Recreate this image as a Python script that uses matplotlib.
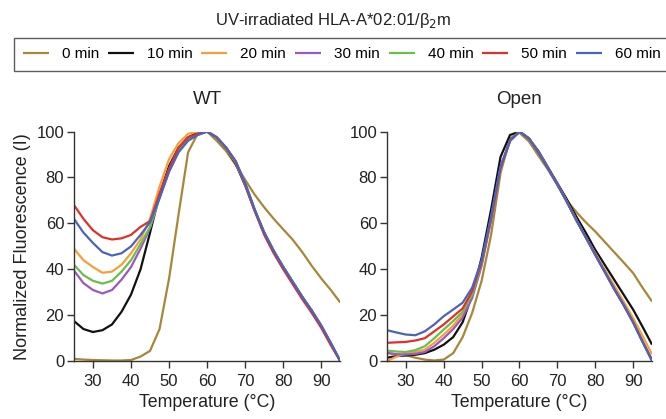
import matplotlib
matplotlib.use("Agg")
import matplotlib.pyplot as plt

plt.rcParams['font.family'] = ['Liberation Sans', 'DejaVu Sans']

temps = [25, 27.5, 30, 32.5, 35, 37.5, 40, 42.5, 45, 47.5, 50, 52.5, 55, 57.5, 60,
         62.5, 65, 67.5, 70, 72.5, 75, 77.5, 80, 82.5, 85, 87.5, 90, 92.5, 95]

labels = ["0 min", "10 min", "20 min", "30 min", "40 min", "50 min", "60 min"]
colors = ["#a8863a", "#111111", "#f5a03a", "#9b59c0", "#6abf4b", "#e0302a", "#4a63c0"]

# WT panel
wt_0 = [1, 0.7, 0.5, 0.4, 0.3, 0.3, 0.5, 2, 4.5, 14, 36, 64, 91, 99, 100,
        96, 91.5, 85.5, 79, 72.5, 67, 62, 57.4, 52.9, 47.5, 41.5, 36, 31, 25.5]
wt_10 = [17.5, 14, 12.7, 13.5, 16, 21.5, 29, 40, 56, 72.5, 85, 93, 97.5, 99.5, 100,
         97.5, 92.5, 86, 76.5, 65.5, 56, 48, 41, 34.5, 28, 22, 15, 7.5, 0]
wt_20 = [49, 44, 41, 38.5, 39, 42, 47, 53, 62, 76, 88, 95, 99, 100, 100,
         97.5, 92.5, 86.5, 77, 65.5, 55.5, 47.5, 40.5, 34, 27.5, 21.5, 15, 7.5, 0]
wt_30 = [39.5, 34, 31, 29.5, 31, 35.5, 41, 49, 58, 71.5, 83, 92, 96.5, 99, 100,
         97.5, 93, 87, 77.5, 66, 56, 48, 41, 34.5, 28, 22, 15.3, 7.8, 0]
wt_40 = [42, 37.5, 35, 33.8, 35, 39, 44, 51, 58.5, 71, 83, 92, 96.5, 98.5, 100,
         97.5, 93, 87, 77.5, 66, 56, 48, 41, 34.5, 28, 22, 15.3, 7.8, 0]
wt_50 = [68, 62, 57, 54, 53, 53.5, 55, 58.5, 61, 73, 84, 93, 97.5, 99, 100,
         97.5, 93, 87, 77, 65.5, 55, 47, 40, 33.5, 27, 21, 14.5, 7, 0]
wt_60 = [62, 56, 51.5, 47.5, 46, 47, 50, 55, 60.5, 71, 82.5, 91, 96, 98.5, 100,
         97.5, 93, 87, 77.5, 66, 56, 48, 41, 34.5, 28, 22, 15.6, 8, 0]

# Open panel
op_0 = [3.6, 3, 2.6, 1.5, 0.7, 0.3, 0.7, 3.5, 10.5, 21, 35, 55, 82, 97, 99.5,
        95.7, 89.5, 83.5, 76.8, 70, 65, 60.5, 56.5, 52, 47.5, 43, 38.4, 32, 26]
op_10 = [1.5, 2.2, 2.5, 2.8, 3.5, 5, 7.2, 10.5, 17, 29, 45, 66, 89, 98.5, 100,
         97, 91.5, 84.5, 77.5, 70.5, 63, 56, 48.5, 42, 35.5, 29, 22.5, 15, 7.2]
op_20 = [0, 2, 3.2, 4, 5, 8, 11.6, 15.5, 20.5, 28.5, 42.5, 62, 84, 96, 100,
         97, 91, 84, 77, 69.5, 61.5, 54, 47, 40, 33, 26, 18.8, 11, 3]
op_30 = [3.6, 3, 2.9, 3.2, 4, 6.5, 10, 14, 19, 27.5, 41.5, 61.5, 84, 96, 100,
         97, 91, 84, 77, 69.5, 61.5, 54, 46.4, 39, 31.5, 24.5, 17, 8.5, 0.5]
op_40 = [4.6, 4.2, 4, 4.8, 6.5, 10, 13.8, 17.5, 21.5, 29, 42.5, 62, 84, 96, 100,
         97, 91, 84, 77, 69.5, 61.5, 54, 46.4, 39, 31.5, 24.5, 17, 8.5, 0.5]
op_50 = [8, 8.2, 8.4, 9, 10, 13, 16, 19.5, 23, 30.5, 43, 62, 84, 96, 100,
         97, 91, 84, 77, 69.5, 61.5, 54, 46.4, 39, 31.5, 24.5, 17, 8.5, 0.5]
op_60 = [13.5, 12.5, 11.6, 11.3, 13, 16, 19.6, 22.5, 25.5, 32, 44, 63, 85, 96, 100,
         97, 91, 84, 77, 69.5, 61.5, 54, 46.4, 39, 31.5, 24.5, 17, 8.5, 0]

wt_series = [wt_0, wt_10, wt_20, wt_30, wt_40, wt_50, wt_60]
op_series = [op_0, op_10, op_20, op_30, op_40, op_50, op_60]

xticks = [30, 40, 50, 60, 70, 80, 90]
yticks = [0, 20, 40, 60, 80, 100]

fig = plt.figure(figsize=(6.66, 4.19), dpi=100)
ax1 = fig.add_axes([0.111, 0.138, 0.400, 0.548])
ax2 = fig.add_axes([0.581, 0.138, 0.398, 0.548])

handles = []
for ax, series, title in [(ax1, wt_series, "WT"), (ax2, op_series, "Open")]:
    for vals, c, lab in zip(series, colors, labels):
        h, = ax.plot(temps, vals, color=c, lw=1.6, label=lab,
                     solid_capstyle='butt', solid_joinstyle='round')
        if ax is ax1:
            handles.append(h)
    ax.set_xlim(25, 95)
    ax.set_ylim(0, 100)
    ax.set_xticks(xticks)
    ax.set_yticks(yticks)
    ax.spines['top'].set_visible(False)
    ax.spines['right'].set_visible(False)
    for s in ['left', 'bottom']:
        ax.spines[s].set_color('#333333')
        ax.spines[s].set_linewidth(1.0)
    ax.tick_params(direction='out', length=5, width=1, colors='#333333',
                   labelsize=12, labelcolor='#222222')
    ax.tick_params(axis='x', pad=4)
    ax.tick_params(axis='y', pad=2)
    ax.set_xlabel("Temperature (°C)", fontsize=12.8, color='#222222', labelpad=4)
    ax.set_title(title, fontsize=13.5, color='#222222', pad=20)

ax1.set_ylabel("Normalized Fluorescence (I)", fontsize=13, color='#222222', labelpad=4)

fig.text(0.5, 0.952, "UV-irradiated HLA-A*02:01/β$_2$m", ha='center', va='center',
         fontsize=12, color='#222222')

leg = fig.legend(handles=handles, loc='center', bbox_to_anchor=(0.513, 0.870),
                 ncol=7, frameon=True, fancybox=False, fontsize=11,
                 handlelength=1.7, handletextpad=0.85, columnspacing=0.58,
                 borderpad=0.6, edgecolor='#333333')
leg.get_frame().set_linewidth(1.0)

fig.savefig("out.png", dpi=100)
